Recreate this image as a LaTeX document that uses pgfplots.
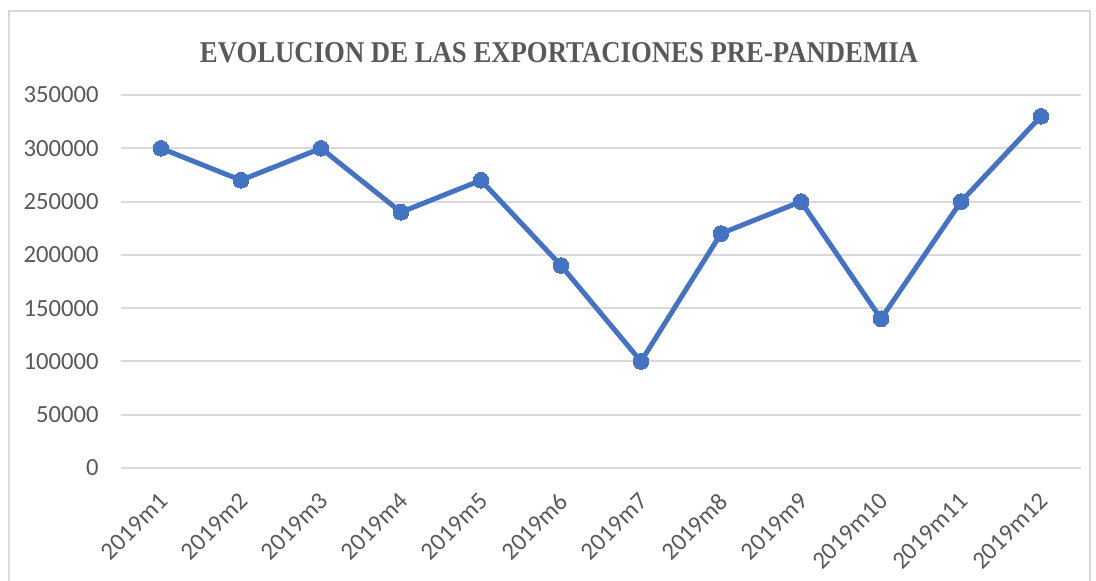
\documentclass[border=0pt]{standalone}
\usepackage{pgfplots}
\pgfplotsset{compat=1.18}
\usepackage{fontspec}
\setmainfont{Carlito}
\newfontfamily\titlefont{Liberation Serif}
\definecolor{lineblue}{HTML}{4472C4}
\definecolor{gridc}{HTML}{D9D9D9}
\definecolor{txt}{HTML}{595959}
\begin{document}
\begin{tikzpicture}[x=0.75pt,y=0.75pt]
\useasboundingbox (-121,-113) rectangle (975,468);
\draw[draw=gridc, line width=1.5pt] (-112,-140) rectangle (969,457);
\begin{axis}[
  at={(0,0)}, anchor=south west,
  scale only axis, width=720pt, height=279.75pt,
  xmin=-0.5, xmax=11.5, ymin=0, ymax=350000,
  xtick={0,...,11},
  xticklabels={2019m1,2019m2,2019m3,2019m4,2019m5,2019m6,2019m7,2019m8,2019m9,2019m10,2019m11,2019m12},
  ytick={0,50000,...,350000},
  scaled y ticks=false,
  /pgf/number format/assume math mode=true,
  yticklabel style={/pgf/number format/fixed,/pgf/number format/1000 sep={},anchor=east,inner sep=0pt,xshift=-16.5pt},
  xticklabel style={xshift=2pt,yshift=-22pt,rotate=45,anchor=east,inner sep=0pt},
  ticklabel style={font=\fontsize{18.5}{20}\selectfont, text=txt},
  axis line style={draw=none},
  tick style={draw=none},
  ymajorgrids,
  major grid style={draw=gridc, line width=1.5pt},
  clip=false,
]
\addplot[lineblue, line width=3.75pt, mark=*, mark size=5.9pt, mark options={fill=lineblue, draw=lineblue, line width=0pt}]
coordinates {(0,300000)(1,270000)(2,300000)(3,240000)(4,270000)(5,190000)(6,100000)(7,220000)(8,250000)(9,140000)(10,250000)(11,330000)};
\end{axis}
\node[text=txt, inner sep=0pt] at (438,415) {\resizebox{538.5pt}{15pt}{\titlefont\bfseries EVOLUCION DE LAS EXPORTACIONES PRE-PANDEMIA}};
\end{tikzpicture}
\end{document}
